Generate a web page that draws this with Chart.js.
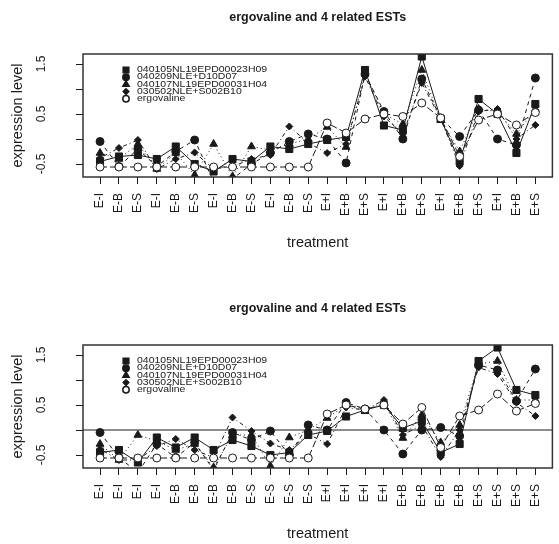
<!DOCTYPE html>
<html>
<head>
<meta charset="utf-8">
<script src="https://cdn.jsdelivr.net/npm/chart.js@4.4.1/dist/chart.umd.min.js"></script>
<style>
  html, body { margin: 0; padding: 0; background: #fff; }
  .panel { position: absolute; left: 0; width: 559px; height: 253px; }
</style>
</head>
<body>
<div class="panel" style="top:0"><canvas id="chartTop"></canvas></div>
<div class="panel" style="top:291px"><canvas id="chartBottom"></canvas></div>
<script>
// treatment of each sample, in the order of the upper panel
const treatments = ['E-I', 'E-B', 'E-S', 'E-I', 'E-B', 'E-S', 'E-I', 'E-B', 'E-S', 'E-I', 'E-B', 'E-S',
                    'E+I', 'E+B', 'E+S', 'E+I', 'E+B', 'E+S', 'E+I', 'E+B', 'E+S', 'E+I', 'E+B', 'E+S'];
// lower panel shows the same samples grouped by treatment
const sortedOrder = [0, 3, 6, 9, 1, 4, 7, 10, 2, 5, 8, 11, 12, 15, 18, 21, 13, 16, 19, 22, 14, 17, 20, 23];

const seriesNames = ['040105NL19EPD00023H09', '040209NLE+D10D07', '040107NL19EPD00031H04', '030502NLE+S002B10', 'ergovaline'];
const est23H09  = [-0.45, -0.35, -0.32, -0.40, -0.15, -0.50, -0.65, -0.40, -0.45, -0.15, -0.20, -0.10,
                   -0.02, 0.04, 1.38, 0.27, 0.18, 1.65, 0.40, -0.45, 0.80, 0.50, -0.28, 0.70];
const estD10D07 = [-0.05, -0.55, -0.20, -0.55, -0.25, -0.02, -0.85, -0.80, -0.50, -0.28, -0.05, 0.10,
                   0.00, -0.48, 1.30, 0.55, 0.00, 1.20, 0.42, 0.05, 0.58, 0.00, -0.12, 1.22];
const est31H04  = [-0.28, -0.40, -0.10, -0.60, -0.28, -0.72, -0.10, -0.75, -0.15, -0.22, -0.10, 0.00,
                   0.24, -0.16, 1.32, 0.50, 0.30, 1.38, 0.38, -0.25, 0.60, 0.55, 0.10, 0.60];
const estS002B10 = [-0.38, -0.18, -0.02, -0.60, -0.40, -0.27, -0.60, -0.55, -0.40, -0.32, 0.25, -0.08,
                    -0.28, -0.10, 1.25, 0.45, 0.10, 1.12, 0.40, -0.54, 0.55, 0.60, 0.00, 0.28];
const ergovaline = [-0.56, -0.56, -0.56, -0.56, -0.56, -0.56, -0.56, -0.56, -0.56, -0.56, -0.56, -0.56,
                    0.32, 0.12, 0.40, 0.50, 0.45, 0.72, 0.42, -0.35, 0.38, 0.50, 0.28, 0.53];
const seriesValues = [est23H09, estD10D07, est31H04, estS002B10, ergovaline];
const yTicks = [-0.5, 0, 0.5, 1, 1.5];
const yTickLabels = ['-0.5', '', '0.5', '', '1.5'];

const ink = '#1a1a1a';
const looks = [
  { style: 'rect', r: 5, fill: ink, dash: [] },
  { style: 'circle', r: 4, fill: ink, dash: [4, 4] },
  { style: 'triangle', r: 4.5, fill: ink, dash: [1, 3] },
  { style: 'rectRot', r: 3.5, fill: ink, dash: [1, 3, 4, 3] },
  { style: 'circle', r: 4, fill: '#fff', dash: [7, 3] }
];

Chart.defaults.font.family = "'Liberation Sans', Arial, sans-serif";
Chart.defaults.color = ink;

const decor = {
  id: 'decor',
  beforeDatasetsDraw(chart, args, opts) {
    if (!opts.zeroLine) return;
    const { ctx, chartArea: a, scales: { y } } = chart;
    const py = y.getPixelForValue(0);
    ctx.save();
    ctx.strokeStyle = ink;
    ctx.lineWidth = 1;
    ctx.beginPath();
    ctx.moveTo(a.left, py);
    ctx.lineTo(a.right, py);
    ctx.stroke();
    ctx.restore();
  },
  afterDraw(chart) {
    const { ctx, chartArea: a } = chart;
    ctx.save();
    ctx.strokeStyle = '#333';
    ctx.lineWidth = 1.5;
    ctx.strokeRect(a.left, a.top, a.right - a.left, a.bottom - a.top);
    // legend in the top-left corner of the plot
    seriesNames.forEach((name, i) => {
      const lk = looks[i];
      const y = a.top + 16 + i * 7.2;
      ctx.fillStyle = lk.fill;
      ctx.strokeStyle = ink;
      Chart.helpers.drawPoint(ctx, { pointStyle: lk.style, radius: lk.r * 0.8, borderWidth: 1, rotation: 0 }, a.left + 43, y);
      ctx.save();
      ctx.translate(a.left + 54, y);
      ctx.scale(1, 0.78);
      ctx.fillStyle = ink;
      ctx.font = "10.5px 'Liberation Sans', Arial, sans-serif";
      ctx.textBaseline = 'middle';
      ctx.fillText(name, 0, 0);
      ctx.restore();
    });
    ctx.restore();
  }
};

function buildChart(id, order, zeroLine) {
  const labels = order.map(k => treatments[k]);
  const datasets = seriesValues.map((vals, i) => ({
    label: seriesNames[i],
    data: order.map((k, j) => ({ x: j, y: vals[k] })),
    borderColor: ink,
    borderWidth: 1,
    borderDash: looks[i].dash,
    pointStyle: looks[i].style,
    pointRadius: looks[i].r,
    pointBackgroundColor: looks[i].fill,
    pointBorderColor: ink,
    pointBorderWidth: 1,
    tension: 0,
    order: -i
  }));

  return new Chart(document.getElementById(id), {
    type: 'line',
    data: { datasets },
    plugins: [decor],
    options: {
      responsive: true,
      maintainAspectRatio: false,
      animation: false,
      layout: { padding: { left: 0, right: 5, top: 0, bottom: 0 } },
      plugins: {
        legend: { display: false },
        tooltip: { enabled: false },
        title: {
          display: true,
          fullSize: false,
          text: 'ergovaline and 4 related ESTs',
          font: { size: 12.5, weight: 'bold' },
          color: ink,
          padding: { top: 10, bottom: 29 }
        },
        decor: { zeroLine }
      },
      scales: {
        x: {
          type: 'linear',
          min: -0.9,
          max: 23.9,
          afterBuildTicks: s => { s.ticks = labels.map((_, i) => ({ value: i })); },
          afterFit: s => { s.height = 76; },
          grid: { drawOnChartArea: false, drawTicks: true, tickLength: 7, color: ink },
          border: { display: false },
          ticks: {
            autoSkip: false,
            minRotation: 90,
            maxRotation: 90,
            padding: 9,
            font: { size: 12 },
            callback: v => labels[v]
          },
          title: { display: true, text: 'treatment', font: { size: 14.5 }, padding: { top: 0, bottom: 1 } }
        },
        y: {
          min: -0.76,
          max: 1.7,
          afterBuildTicks: s => { s.ticks = yTicks.map(v => ({ value: v })); },
          afterFit: s => { s.width = 83; },
          grid: { drawOnChartArea: false, drawTicks: true, tickLength: 7, color: ink },
          border: { display: false },
          ticks: {
            minRotation: 90,
            maxRotation: 90,
            crossAlign: 'center',
            padding: 24,
            font: { size: 12 },
            callback: v => yTickLabels[yTicks.indexOf(v)]
          },
          title: { display: true, text: 'expression level', font: { size: 14.5 }, padding: { top: 9, bottom: 0 } }
        }
      }
    }
  });
}

buildChart('chartTop', treatments.map((_, i) => i), false);
buildChart('chartBottom', sortedOrder, true);
</script>
</body>
</html>
